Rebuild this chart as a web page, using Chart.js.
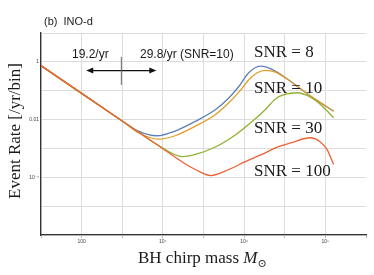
<!DOCTYPE html>
<html>
<head>
<meta charset="utf-8">
<script src="https://cdn.jsdelivr.net/npm/chart.js@4"></script>
<style>
  html, body { margin: 0; padding: 0; background: #fff; }
  #wrap { width: 374px; height: 275px; position: relative; }
</style>
</head>
<body>
<div id="wrap"><canvas id="rateChart"></canvas></div>
<script>
// series values (BH chirp mass vs event rate)
const mass8 = [10, 100, 1000, 2500, 7100, 2.0e4, 6.3e4, 1.95e5, 4.2e5, 7.4e5, 1.3e6, 2.5e6, 5.0e6, 1.4e7, 4.3e7, 1.6e8];
const rate8 = [0.74, 0.081, 0.0089, 0.0040, 0.00275, 0.0040, 0.0087, 0.022, 0.056, 0.14, 0.42, 0.71, 0.54, 0.21, 0.065, 0.0195];

const mass10 = [10, 100, 1000, 2500, 7900, 2.0e4, 6.3e4, 1.95e5, 4.2e5, 7.4e5, 1.45e6, 2.1e6, 3.3e6, 5.9e6, 1.4e7, 4.3e7, 1.6e8];
const rate10 = [0.74, 0.081, 0.0089, 0.0035, 0.0021, 0.00275, 0.0059, 0.0148, 0.038, 0.089, 0.28, 0.42, 0.51, 0.44, 0.21, 0.065, 0.0195];

const mass30 = [10, 100, 1000, 7900, 3.0e4, 6.3e4, 1.95e5, 6.2e5, 1.6e6, 3.3e6, 5.9e6, 1e7, 2.0e7, 4.0e7, 7.6e7, 1.6e8];
const rate30 = [0.74, 0.081, 0.0089, 0.00126, 5.2e-4, 6.2e-4, 0.00112, 0.0030, 0.0087, 0.022, 0.052, 0.074, 0.085, 0.063, 0.033, 0.0115];

const mass100 = [10, 100, 1000, 1e4, 3.2e4, 6.3e4, 1.5e5, 4.2e5, 1.07e6, 2.75e6, 5.9e6, 1.4e7, 4.3e7, 7.1e7, 1.1e8, 1.6e8];
const rate100 = [0.74, 0.081, 0.0089, 9.8e-4, 3.2e-4, 1.86e-4, 1.15e-4, 1.86e-4, 3.5e-4, 6.2e-4, 0.00105, 0.00155, 0.00234, 0.00178, 9.1e-4, 2.8e-4];

// gridlines every decade, labels on every other one
const xGrid = [10, 100, 1e3, 1e4, 1e5, 1e6, 1e7, 1e8, 1e9];
const yGrid = [1e-6, 1e-5, 1e-4, 1e-3, 1e-2, 1e-1, 1, 10];
const xTickValues = [100, 1e4, 1e6, 1e8];
const xTickLabels = ['100', '10⁴', '10⁶', '10⁸'];
const yTickValues = [1, 0.01, 1e-4];
const yTickLabels = ['1', '0.01', '10⁻⁴'];

function toPoints(xs, ys){
    const pts = [];
    for (let i = 0; i < xs.length; i++){
        pts.push({x: xs[i], y: ys[i]});
    }
    return pts;
}

function findLabel(v, values, labels){
    for (let i = 0; i < values.length; i++){
        if (Math.abs(Math.log10(v) - Math.log10(values[i])) < 1e-6) return labels[i];
    }
    return '';
}

const annotations = {
    id: 'annotations',
    afterDraw(chart){
        const ctx = chart.ctx;
        const xs = chart.scales.x;
        const ys = chart.scales.y;
        ctx.save();
        ctx.fillStyle = '#1a1a1a';
        ctx.textBaseline = 'alphabetic';

        ctx.font = '11px "Liberation Sans", Arial, sans-serif';
        ctx.textAlign = 'left';
        ctx.fillText('(b)  INO-d', 44, 25);

        ctx.font = '12px "Liberation Sans", Arial, sans-serif';
        ctx.fillText('19.2/yr', 72, 58);
        ctx.fillText('29.8/yr (SNR=10)', 140, 58);

        // double arrow and separator
        const ay = ys.getPixelForValue(0.5);
        const ax1 = xs.getPixelForValue(130);
        const ax2 = xs.getPixelForValue(6900);
        ctx.strokeStyle = '#111';
        ctx.lineWidth = 1.3;
        ctx.beginPath();
        ctx.moveTo(ax1 + 4, ay);
        ctx.lineTo(ax2 - 4, ay);
        ctx.stroke();
        ctx.fillStyle = '#111';
        ctx.beginPath();
        ctx.moveTo(ax1, ay); ctx.lineTo(ax1 + 7, ay - 3); ctx.lineTo(ax1 + 7, ay + 3); ctx.closePath();
        ctx.fill();
        ctx.beginPath();
        ctx.moveTo(ax2, ay); ctx.lineTo(ax2 - 7, ay - 3); ctx.lineTo(ax2 - 7, ay + 3); ctx.closePath();
        ctx.fill();
        const vx = xs.getPixelForValue(950);
        ctx.strokeStyle = '#666';
        ctx.lineWidth = 1;
        ctx.beginPath();
        ctx.moveTo(vx, ys.getPixelForValue(1.5));
        ctx.lineTo(vx, ys.getPixelForValue(0.16));
        ctx.stroke();

        // SNR labels
        ctx.fillStyle = '#1a1a1a';
        ctx.font = '17px "Liberation Serif", "Times New Roman", serif';
        ctx.fillText('SNR = 8', 254, 57);
        ctx.fillText('SNR = 10', 254, 93);
        ctx.fillText('SNR = 30', 254, 133);
        ctx.fillText('SNR = 100', 254, 176);

        // y axis title
        ctx.save();
        ctx.translate(20, 131);
        ctx.rotate(-Math.PI / 2);
        ctx.textAlign = 'center';
        ctx.fillText('Event Rate [/yr/bin]', 0, 0);
        ctx.restore();

        // x axis title
        let tx = 138;
        const by = 263;
        ctx.font = '17px "Liberation Serif", "Times New Roman", serif';
        ctx.fillText('BH chirp mass ', tx, by);
        tx += ctx.measureText('BH chirp mass ').width;
        ctx.font = 'italic 17px "Liberation Serif", "Times New Roman", serif';
        ctx.fillText('M', tx, by);
        tx += ctx.measureText('M').width;
        ctx.font = '11px "DejaVu Serif", serif';
        ctx.fillText('⊙', tx, by + 4);
        ctx.restore();
    }
};

const data = {
    datasets: [
        {label: 'SNR = 8', data: toPoints(mass8, rate8), borderColor: '#5e81b5', order: 3},
        {label: 'SNR = 10', data: toPoints(mass10, rate10), borderColor: '#e19c24', order: 2},
        {label: 'SNR = 30', data: toPoints(mass30, rate30), borderColor: '#8fb032', order: 1},
        {label: 'SNR = 100', data: toPoints(mass100, rate100), borderColor: '#eb6235', order: 0}
    ]
};

const tickFont = {size: 5, family: '"Liberation Sans", Arial, sans-serif'};

const config = {
    type: 'line',
    data: data,
    options: {
        responsive: true,
        maintainAspectRatio: false,
        animation: false,
        layout: {padding: {top: 33, right: 8, left: 0, bottom: 0}},
        elements: {
            point: {radius: 0},
            line: {borderWidth: 1.3, fill: false, cubicInterpolationMode: 'monotone'}
        },
        scales: {
            x: {
                type: 'logarithmic',
                min: 10,
                max: 1e9,
                afterBuildTicks: (scale) => { scale.ticks = xGrid.map(v => ({value: v})); },
                afterFit: (scale) => { scale.height = 40; },
                grid: {
                    color: (c) => (c.tick && c.tick.value >= 1e9) ? 'rgba(0,0,0,0)' : '#dcdcdc',
                    lineWidth: 1,
                    drawTicks: true,
                    tickLength: 3,
                    tickColor: '#bbb'
                },
                border: {color: '#333', width: 1.3},
                ticks: {
                    autoSkip: false,
                    maxRotation: 0,
                    padding: 1,
                    color: '#444',
                    font: tickFont,
                    callback: (v) => findLabel(v, xTickValues, xTickLabels)
                }
            },
            y: {
                type: 'logarithmic',
                min: 1e-6,
                max: 10,
                afterBuildTicks: (scale) => { scale.ticks = yGrid.map(v => ({value: v})); },
                afterFit: (scale) => { scale.width = 41; },
                grid: {
                    color: '#dcdcdc',
                    lineWidth: 1,
                    drawTicks: false
                },
                border: {color: '#333', width: 1.3},
                ticks: {
                    autoSkip: false,
                    padding: 2,
                    color: '#444',
                    font: tickFont,
                    callback: (v) => findLabel(v, yTickValues, yTickLabels)
                }
            }
        },
        plugins: {
            legend: {display: false},
            tooltip: {enabled: false}
        }
    },
    plugins: [annotations]
};

const rateChart = new Chart(document.getElementById('rateChart').getContext('2d'), config);
</script>
</body>
</html>
